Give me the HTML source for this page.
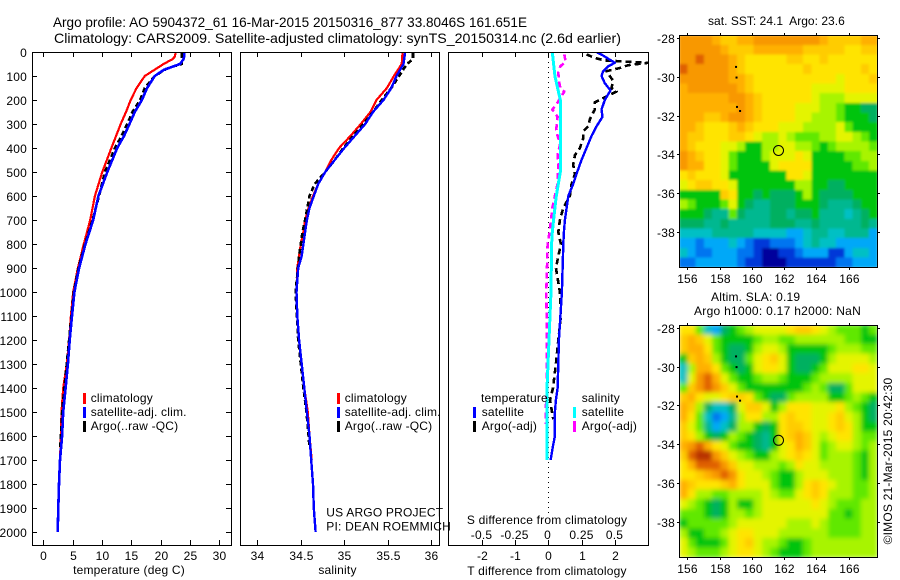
<!DOCTYPE html>
<html lang="en">
<head>
<meta charset="utf-8">
<title>Argo profile 5904372_61</title>
<style>
html,body{margin:0;padding:0;background:#fff;}
svg{display:block;}
text{font-family:"Liberation Sans",sans-serif;font-size:12px;fill:#000;letter-spacing:0.2px;}
.title{font-size:14px;letter-spacing:0;}
.frame{fill:none;stroke:#000;stroke-width:1;shape-rendering:crispEdges;}
</style>
</head>
<body>
<svg id="chart" xmlns="http://www.w3.org/2000/svg" width="900" height="580" viewBox="0 0 900 580">
  <rect x="0" y="0" width="900" height="580" fill="#fff"/>
  <text class="title" x="53" y="27" textLength="474" lengthAdjust="spacingAndGlyphs">Argo profile: AO 5904372_61 16-Mar-2015 20150316_877 33.8046S 161.651E</text>
  <text class="title" x="54" y="43" textLength="567" lengthAdjust="spacingAndGlyphs">Climatology: CARS2009. Satellite-adjusted climatology: synTS_20150314.nc (2.6d earlier)</text>

  <defs>
    <clipPath id="clip-t"><rect x="32" y="52" width="199" height="493"/></clipPath>
    <clipPath id="clip-s"><rect x="240" y="52" width="199" height="493"/></clipPath>
    <clipPath id="clip-d"><rect x="448" y="52" width="200" height="493"/></clipPath>
    <clipPath id="clip-map-top"><rect x="679" y="35" width="199" height="233"/></clipPath>
    <clipPath id="clip-map-bottom"><rect x="679" y="325" width="199" height="233"/></clipPath>
    <filter id="soft-top" filterUnits="userSpaceOnUse" x="670" y="25" width="220" height="255"><feGaussianBlur stdDeviation="1.2" edgeMode="duplicate"/></filter>
    <filter id="soft-bottom" filterUnits="userSpaceOnUse" x="670" y="315" width="220" height="255"><feGaussianBlur stdDeviation="2.5" edgeMode="duplicate"/></filter>
  </defs>

  <g clip-path="url(#clip-map-top)"><g id="heat-top" filter="url(#soft-top)"></g></g>
  <g clip-path="url(#clip-map-bottom)"><g id="heat-bottom" filter="url(#soft-bottom)"></g></g>
  <g id="marks"></g>
  <g id="axes"></g>

  <text x="129" y="574" text-anchor="middle">temperature (deg C)</text>
  <text x="337.5" y="574" text-anchor="middle">salinity</text>
  <text x="547" y="575" text-anchor="middle">T difference from climatology</text>
  <text x="547" y="524" text-anchor="middle">S difference from climatology</text>

  <g>
    <rect x="83" y="393" width="3" height="11" fill="#f00"/>
    <rect x="83" y="407" width="3" height="11" fill="#00f"/>
    <rect x="83" y="421" width="3" height="11" fill="#000"/>
    <text x="90.7" y="402">climatology</text>
    <text x="90.7" y="416">satellite-adj. clim.</text>
    <text x="90.7" y="430">Argo(..raw -QC)</text>
  </g>
  <g>
    <rect x="337" y="393" width="3" height="11" fill="#f00"/>
    <rect x="337" y="407" width="3" height="11" fill="#00f"/>
    <rect x="337" y="421" width="3" height="11" fill="#000"/>
    <text x="344.7" y="402">climatology</text>
    <text x="344.7" y="416">satellite-adj. clim.</text>
    <text x="344.7" y="430">Argo(..raw -QC)</text>
  </g>
  <g>
    <text x="481" y="402">temperature</text>
    <rect x="473" y="407" width="3" height="11" fill="#00f"/>
    <rect x="473" y="421" width="3" height="11" fill="#000"/>
    <text x="481.7" y="416">satellite</text>
    <text x="481.7" y="430">Argo(-adj)</text>
    <text x="581.7" y="402">salinity</text>
    <rect x="573" y="407" width="3" height="11" fill="#0ff"/>
    <rect x="573" y="421" width="3" height="11" fill="#f0f"/>
    <text x="581.7" y="416">satellite</text>
    <text x="581.7" y="430">Argo(-adj)</text>
  </g>
  <text x="326.3" y="516.7">US ARGO PROJECT</text>
  <text x="326.3" y="530.7">PI: DEAN ROEMMICH</text>

  <text x="708" y="25" textLength="137" lengthAdjust="spacing">sat. SST: 24.1&#160; Argo: 23.6</text>
  <text x="711" y="301">Altim. SLA: 0.19</text>
  <text x="694" y="315" textLength="167" lengthAdjust="spacing">Argo h1000: 0.17 h2000: NaN</text>
  <text x="892" y="461" text-anchor="middle" transform="rotate(-90 892 461)">©IMOS 21-Mar-2015 20:42:30</text>
</svg>

<script>
// ---- Temperature panel (deg C against depth, m)
const tempClimDepth = [0,20,30,50,75,100,150,200,250,300,400,500,600,700,800,900,1000,1100,1200,1300,1400,1500,1600,1700];
const tempClimValue = [22.6,22.4,22,20.5,18.9,17.3,15.9,14.9,14.1,13.2,11.6,10.06,8.8,8,6.9,5.9,5.1,4.7,4.4,4,3.4,3.1,3,2.85];
const tempSatDepth = [0,20,30,50,65,75,100,150,200,250,300,350,400,500,600,700,800,900,1000,1100,1200,1300,1400,1500,1600,1700,1800,1900,2000];
const tempSatValue = [24,24,23.9,23.3,21.6,20.5,19,17.7,16.8,15.6,14.7,13.75,12.6,10.9,9.4,8.5,7.2,6.1,5.3,4.9,4.5,4.2,3.8,3.4,3.2,2.85,2.67,2.55,2.45];
const tempArgoDepth = [5,50,60,70,100,150,200,250,300,350,400,500,600,700,800,900,1000,1200,1400,1500,1650];
const tempArgoValue = [23.6,23.6,22.2,21,19,17.3,16.5,15.2,14.3,13.35,12.2,10.5,9.5,8.4,7.1,6,5.2,4.4,3.6,3.2,2.9];

// ---- Salinity panel
const salClimDepth = [0,50,100,150,200,250,300,350,400,450,500,550,600,650,700,750,800,850,900,1000,1100,1200,1300,1400,1500,1600,1700];
const salClimValue = [35.67,35.66,35.57,35.49,35.37,35.3,35.19,35.07,34.94,34.85,34.78,34.7,34.64,34.59,34.55,34.53,34.5,34.48,34.46,34.45,34.46,34.48,34.51,34.54,34.58,34.6,34.625];
const salSatDepth = [0,50,100,150,200,250,300,350,400,450,500,550,600,650,700,750,800,850,900,1000,1100,1200,1300,1400,1500,1600,1700,1800,1900,2000];
const salSatValue = [35.7,35.68,35.6,35.54,35.45,35.33,35.24,35.12,35,34.89,34.78,34.7,34.65,34.6,34.57,34.55,34.53,34.51,34.47,34.45,34.46,34.48,34.51,34.54,34.57,34.6,34.62,34.64,34.65,34.67];
const salArgoDepth = [5,30,50,100,150,200,240,300,350,400,450,500,550,600,700,750,800,850,1000,1200,1400,1500,1600,1650];
const salArgoValue = [35.79,35.79,35.72,35.63,35.54,35.43,35.35,35.22,35.1,34.99,34.89,34.78,34.66,34.6,34.55,34.52,34.5,34.48,34.44,34.47,34.53,34.565,34.59,34.6];

// ---- Difference panel
const diffTSatDepth = [0,15,45,60,80,100,130,160,200,240,270,310,350,400,450,500,550,600,650,700,750,800,1000,1200,1300,1400,1450,1500,1600,1650,1700];
const diffTSatValue = [1.45,1.65,2,1.8,1.65,1.6,1.7,1.87,1.7,1.6,1.63,1.45,1.3,1.15,1,0.87,0.75,0.6,0.55,0.5,0.47,0.45,0.41,0.32,0.3,0.28,0.23,0.2,0.2,0.13,0.07];
const diffTArgoDepth = [10,25,35,45,55,65,80,100,120,150,165,185,210,240,280,310,330,360,400,430,470,510,550,600,650,700,750,800,900,1000,1100,1200,1300,1400,1450,1490,1530];
const diffTArgoValue = [1.15,1.4,1.7,3,2.4,2.2,1.75,1.85,1.95,1.9,2.05,1.75,1.4,1.4,1.25,1.2,1.05,1.05,0.95,0.8,0.75,0.8,0.7,0.65,0.45,0.35,0.3,0.38,0.23,0.35,0.38,0.3,0.23,0.14,0.05,0.1,0.15];
const diffSSatDepth = [0,50,100,150,200,250,300,350,400,450,500,550,600,650,700,750,800,1000,1200,1400,1700];
const diffSSatValue = [0.03,0.04,0.05,0.07,0.09,0.09,0.09,0.09,0.09,0.09,0.09,0.075,0.06,0.05,0.04,0.03,0.025,0.02,0.005,-0.01,-0.01];
const diffSArgoDepth = [10,40,60,85,120,150,165,190,220,240,270,320,350,380,430,480,550,600,650,700,750,800,900,1000,1200,1400,1500,1550];
const diffSArgoValue = [0.12,0.13,0.09,0.075,0.08,0.09,0.12,0.09,0.06,0.03,0.07,0.06,0.07,0.09,0.07,0.075,0.07,0.05,0.03,0.02,0.01,-0.005,-0.01,-0.015,-0.01,-0.01,-0.02,-0.02];

// ---- Tick labels
const depthTicks = [0,100,200,300,400,500,600,700,800,900,1000,1100,1200,1300,1400,1500,1600,1700,1800,1900,2000];
const tempTicks = [0,5,10,15,20,25,30];
const salTicks = ["34","34.5","35","35.5","36"];
const diffTTicks = [-2,-1,0,1,2];
const diffSTicks = ["-0.5","-0.25","0","0.25","0.5"];
const lonTicks = [156,158,160,162,164,166];
const latTicks = [28,30,32,34,36,38];

// ---- Map data: colour-scale level per half-degree cell, north to south
const sstLevels = [
[14,14,14,14,13,12,12,13,13,14,14,14,14,14,14,14,14,13,12,12,12,12,13,13],
[14,14,14,14,14,13,12,12,12,13,13,13,13,13,13,12,12,12,12,12,11,11,12,12],
[14,14,15,14,14,14,13,12,11,11,11,11,11,12,12,11,11,12,11,11,11,11,11,11],
[15,14,14,14,14,14,13,12,11,11,11,11,11,11,11,12,11,11,11,11,11,11,12,11],
[14,14,14,14,14,14,13,13,12,11,11,11,11,11,11,11,11,11,11,10,11,11,11,12],
[13,14,14,14,14,14,14,13,12,11,11,11,11,11,11,11,10,10,10,10,11,11,11,11],
[13,13,13,13,13,13,14,14,13,12,11,11,11,11,11,11,10,9,9,9,10,10,10,10],
[13,13,13,13,13,13,13,14,13,12,11,11,11,11,10,10,10,9,9,8,7,7,6,6],
[13,13,13,12,12,13,14,14,13,12,11,11,11,11,10,10,9,9,9,8,7,7,7,6],
[13,13,12,11,11,11,12,13,12,11,11,11,10,10,10,9,9,9,9,10,8,7,7,7],
[13,12,12,11,11,11,12,12,11,10,9,9,10,9,8,8,8,9,9,10,10,9,8,7],
[13,12,11,11,11,10,10,9,7,7,9,9,10,10,9,9,8,7,8,9,9,9,9,8],
[14,13,12,11,11,10,8,7,7,7,9,10,10,10,11,10,7,7,7,7,8,8,9,9],
[14,13,13,11,11,10,8,7,7,7,7,10,11,11,11,11,7,7,7,7,7,8,8,9],
[11,12,11,11,11,10,7,7,7,7,7,7,7,11,11,10,7,7,7,7,7,7,7,7],
[10,11,12,12,11,11,10,7,7,7,7,7,7,7,9,9,7,7,6,6,7,7,7,7],
[7,7,7,7,7,12,11,7,7,6,7,6,6,6,7,9,7,6,6,6,6,7,7,7],
[9,8,7,7,7,8,10,7,6,5,5,6,6,6,7,7,7,6,5,5,5,6,7,7],
[7,7,7,6,5,5,8,6,5,5,5,6,6,5,6,6,7,5,5,5,4,5,6,7],
[6,6,6,5,5,6,5,5,5,5,5,6,6,6,5,5,6,5,5,5,5,5,6,5],
[4,4,4,4,5,5,5,5,5,4,4,4,4,3,3,4,5,5,4,4,5,5,5,3],
[3,3,2,3,3,3,4,3,2,1,1,2,2,2,3,4,5,4,4,3,3,3,3,3],
[4,3,2,2,3,3,3,2,2,1,0,0,1,1,2,3,3,3,1,1,3,4,4,3],
[2,2,3,3,3,3,3,2,1,1,0,0,0,1,1,1,1,1,1,2,2,3,3,3]
];
const slaLevels = [
[11,11,8,4,3,6,7,8,9,10,10,10,10,11,12,12,11,10,9,8,8,8,7,8],
[12,13,12,10,8,7,7,7,7,8,9,9,8,8,9,9,9,9,9,9,8,8,7,7],
[12,13,13,11,8,7,6,6,7,9,10,10,9,7,7,7,7,7,8,9,9,9,8,8],
[7,12,13,12,9,7,6,6,8,10,11,12,10,7,6,6,6,7,9,10,10,10,10,9],
[4,9,13,13,11,8,7,6,7,10,11,11,10,7,6,6,7,8,10,10,10,11,11,10],
[4,10,14,15,13,10,8,7,7,8,9,9,8,7,7,7,8,9,9,9,9,10,10,10],
[8,12,14,15,14,12,10,8,7,7,7,7,7,7,7,8,9,8,6,6,8,10,10,10],
[12,13,11,10,10,11,12,12,11,8,7,6,6,8,9,9,9,9,7,7,8,9,8,7],
[13,12,9,6,4,4,6,10,12,12,10,7,9,11,11,11,10,10,10,11,9,8,7,6],
[13,11,8,4,2,3,5,9,11,11,9,9,11,12,11,11,10,10,11,12,10,9,7,6],
[12,10,8,5,3,4,6,9,9,7,6,7,11,12,12,11,10,10,11,12,11,9,7,7],
[12,11,9,7,6,7,9,8,7,6,5,7,11,12,13,12,10,9,10,11,11,9,8,8],
[13,14,15,13,11,10,8,7,7,6,5,7,10,11,13,12,10,8,9,10,10,9,8,9],
[12,15,16,16,14,12,10,9,8,7,7,9,10,11,12,11,10,8,9,9,9,8,7,9],
[11,13,15,15,15,14,12,10,10,9,9,9,8,9,11,10,10,9,9,9,9,8,7,9],
[11,11,12,13,14,15,14,11,10,10,9,8,7,7,9,10,10,10,9,9,9,8,7,9],
[13,12,11,11,11,12,13,11,10,10,10,8,7,7,9,11,12,11,10,9,9,8,8,9],
[13,11,9,9,8,8,9,9,9,9,10,9,8,8,10,11,12,11,9,9,9,8,8,9],
[10,9,8,7,6,7,9,7,7,9,10,10,10,10,10,10,11,10,9,8,8,8,9,9],
[8,8,8,7,6,7,9,9,8,9,10,10,10,10,10,10,10,10,8,8,7,8,9,9],
[7,8,8,8,8,8,9,10,10,10,10,10,10,9,9,9,10,9,8,8,8,8,9,9],
[9,7,7,8,8,9,10,11,11,10,10,10,9,9,9,9,9,9,8,8,8,8,9,9],
[10,8,7,7,7,8,10,11,12,10,9,9,8,7,7,8,9,9,9,9,9,9,9,9],
[10,9,8,8,8,9,10,11,11,10,9,8,7,7,7,8,9,9,9,9,9,9,9,9]
];
const coastLon = [159.02,159.05,159.08,159.27];
const coastLat = [29.48,30.03,31.55,31.76];
const argoLon = [161.651];
const argoLat = [33.8046];
const levelColours = ["#00009c","#0038d8","#0074f0","#00a8f8","#00c0c4","#00b890","#00b060","#00c410","#60e800","#a8f400","#e4f400","#ffe400","#ffcc00","#ffb000","#f89800","#e06000","#b83000"];

// ---- Axis functions
const yD = d => 52 + 0.24 * d;
const xT = t => 43.3 + 5.867 * t;
const xS = s => 257.3 + 87 * (s - 34);
const xDT = t => 548.3 + 33.25 * t;
const xDS = s => 548.3 + 133 * s;
const lonX = lon => 687.3 + 16.14 * (lon - 156);
const topLatY = lat => 38.3 + 19.33 * (lat - 28);
const botLatY = lat => 327.7 + 19.4 * (lat - 28);

const NS = "http://www.w3.org/2000/svg";
const marks = document.getElementById("marks");
const axes = document.getElementById("axes");

function node(parent, tag, props, label) {
  const el = document.createElementNS(NS, tag);
  for (const k in props) el.setAttribute(k, props[k]);
  if (label !== undefined) el.textContent = label;
  parent.appendChild(el);
  return el;
}

function drawLine(name, depths, values, xf, colour, width, dash, clip) {
  const pts = depths.map((d, i) => xf(values[i]).toFixed(1) + "," + yD(d).toFixed(1)).join(" ");
  const el = node(marks, "polyline", {points: pts, fill: "none", stroke: colour, "stroke-width": width, "stroke-linejoin": "round", "shape-rendering": "crispEdges", "clip-path": "url(#" + clip + ")"});
  if (dash) el.setAttribute("stroke-dasharray", dash);
  
  
}

// temperature
drawLine("temperature-climatology-line", tempClimDepth, tempClimValue, xT, "#f00", 2.2, null, "clip-t");
drawLine("temperature-argo-line", tempArgoDepth, tempArgoValue, xT, "#000", 2.6, "5 3", "clip-t");
drawLine("temperature-satellite-line", tempSatDepth, tempSatValue, xT, "#00f", 2.6, null, "clip-t");
// salinity
drawLine("salinity-climatology-line", salClimDepth, salClimValue, xS, "#f00", 2.2, null, "clip-s");
drawLine("salinity-argo-line", salArgoDepth, salArgoValue, xS, "#000", 2.6, "5 3", "clip-s");
drawLine("salinity-satellite-line", salSatDepth, salSatValue, xS, "#00f", 2.4, null, "clip-s");
// differences
const zeroLine = node(marks, "line", {x1: xDT(0), x2: xDT(0), y1: 52, y2: 513, stroke: "#000", "stroke-width": 1, "stroke-dasharray": "1 4", "shape-rendering": "crispEdges"});


drawLine("t-difference-argo-line", diffTArgoDepth, diffTArgoValue, xDT, "#000", 2.6, "6 4", "clip-d");
drawLine("s-difference-argo-line", diffSArgoDepth, diffSArgoValue, xDS, "#f0f", 2.6, "6 4", "clip-d");
drawLine("t-difference-satellite-line", diffTSatDepth, diffTSatValue, xDT, "#00f", 2.4, null, "clip-d");
drawLine("s-difference-satellite-line", diffSSatDepth, diffSSatValue, xDS, "#0ff", 3, null, "clip-d");

// maps
function drawHeat(groupId, grid, latY, cellName) {
  const g = document.getElementById(groupId);
  const lonStart = 155.5, lonStep = 12.27 / 24, latStart = 27.84, latStep = 0.5;
  grid.forEach((row, r) => {
    row.forEach((level, c) => {
      const x0 = lonX(lonStart + c * lonStep), x1 = lonX(lonStart + (c + 1) * lonStep);
      const y0 = latY(latStart + r * latStep), y1 = latY(latStart + (r + 1) * latStep);
      const cell = node(g, "rect", {x: x0.toFixed(2), y: y0.toFixed(2), width: (x1 - x0 + 0.6).toFixed(2), height: (y1 - y0 + 0.6).toFixed(2), fill: levelColours[level], "shape-rendering": "crispEdges"});
      
      
    });
  });
}
drawHeat("heat-top", sstLevels, topLatY, "sst-cell");
drawHeat("heat-bottom", slaLevels, botLatY, "sla-cell");

// frames and ticks
function frame(name, x, y, w, h) {
  const el = node(axes, "rect", {x: x, y: y, width: w, height: h, class: "frame"});
  
  
}
function tick(x1, y1, x2, y2) {
  const el = node(axes, "line", {x1: x1, y1: y1, x2: x2, y2: y2, stroke: "#000", "stroke-width": 1, "shape-rendering": "crispEdges"});
  
  
}
function label(x, y, anchor, str) {
  const el = node(axes, "text", {x: x, y: y, "text-anchor": anchor}, str);
  
  
}

frame("temperature-panel-frame", 32.5, 52.5, 199, 493);
frame("salinity-panel-frame", 240.5, 52.5, 199, 493);
frame("difference-panel-frame", 448.5, 52.5, 200, 493);
frame("sst-map-frame", 679.5, 35.5, 198, 232);
frame("sla-map-frame", 679.5, 325.5, 198, 232);

depthTicks.forEach(d => {
  const y = Math.round(yD(d)) + 0.5;
  tick(32, y, 37, y);
  tick(226, y, 231, y);
  label(27, y + 4.5, "end", String(d));
});
tempTicks.forEach(t => {
  const x = Math.round(xT(t)) + 0.5;
  tick(x, 52, x, 57);
  tick(x, 540, x, 545);
  label(x, 560, "middle", String(t));
});
salTicks.forEach(s => {
  const x = Math.round(xS(Number(s))) + 0.5;
  tick(x, 52, x, 57);
  tick(x, 540, x, 545);
  label(x, 560, "middle", s);
});
diffTTicks.forEach((t, i) => {
  const x = Math.round(xDT(t)) + 0.5;
  tick(x, 52, x, 57);
  tick(x, 540, x, 545);
  label(x, 560, "middle", String(t));
  label(x - 1, 539, "middle", diffSTicks[i]);
});
lonTicks.forEach(lon => {
  const x = Math.round(lonX(lon)) + 0.5;
  tick(x, 33, x, 35);
  tick(x, 268, x, 270);
  tick(x, 323, x, 325);
  tick(x, 558, x, 560);
  label(x, 283, "middle", String(lon));
  label(x, 573, "middle", String(lon));
});
latTicks.forEach(lat => {
  const y1 = Math.round(topLatY(lat)) + 0.5;
  const y2 = Math.round(botLatY(lat)) + 0.5;
  tick(677, y1, 679, y1);
  tick(878, y1, 880, y1);
  tick(677, y2, 679, y2);
  tick(878, y2, 880, y2);
  label(675, y1 + 4.5, "end", "-" + lat);
  label(675, y2 + 4.5, "end", "-" + lat);
});

// coast and Argo position, both maps
[topLatY, botLatY].forEach(latY => {
  coastLon.forEach((lon, i) => {
    const speck = node(axes, "rect", {x: lonX(lon) - 1, y: latY(coastLat[i]) - 1, width: 2, height: 2, fill: "#000"});
    
    
  });
  argoLon.forEach((lon, i) => {
    const ring = node(axes, "circle", {cx: lonX(lon), cy: latY(argoLat[i]), r: 5, fill: "none", stroke: "#000", "stroke-width": 1});
    
    
  });
});
</script>
</body>
</html>
